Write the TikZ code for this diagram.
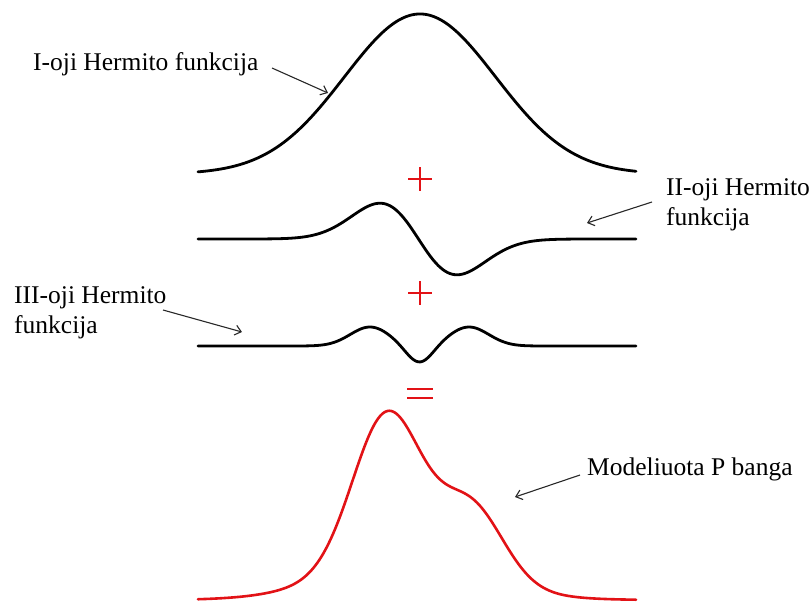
\documentclass[tikz,border=0pt]{standalone}
\usepackage{fontspec}
\setmainfont{Liberation Serif}
\usetikzlibrary{arrows.meta}
\definecolor{wred}{RGB}{226,18,22}
\definecolor{argray}{RGB}{40,40,40}
\tikzset{
  curve/.style={line width=2.8pt, line join=round, line cap=round},
  redcurve/.style={curve, draw=wred, line width=2.6pt},
  sign/.style={draw=wred, line width=2.6pt},
  pointer/.style={draw=argray, line width=1.1pt, -{Straight Barb[length=6pt,width=10pt,line width=1.1pt]}},
  lbl/.style={inner sep=0pt, font=\fontsize{25.5}{30}\selectfont, align=left},
  declare function={g(\t,\c,\s)=exp(-(((\t)-(\c))/(\s))*(((\t)-(\c))/(\s)));}
}
\begin{document}
\begin{tikzpicture}[x=1pt,y=-1pt]
\useasboundingbox (0,0) rectangle (811,603);
% curves
\draw[curve] plot[domain=198:636, samples=220, smooth] (\x, {174 - 160*g(\x,420,107)});
\draw[curve] plot[domain=198:636, samples=220, smooth] (\x, {239 + 59*((\x-418.5)/38.5)*exp(-0.5*((\x-418.5)/38.5)*((\x-418.5)/38.5))});
\draw[curve] plot[domain=198:636, samples=220, smooth] (\x, {346 - 19*g(\x,370,28) - 19*g(\x,469,28) + 17.6*g(\x,419.5,18)});
\draw[redcurve] plot[domain=198:636, samples=260, smooth] (\x, {600 - 150*g(\x,387,48) - 38*g(\x,405,105) - 70*g(\x,472,45)});
% signs
\draw[sign] (408,179) -- (432,179) (420,167) -- (420,191);
\draw[sign] (408,293) -- (432,293) (420,281) -- (420,305);
\draw[sign] (407,389) -- (433,389) (407,398) -- (433,398);
% labels
\node[lbl, anchor=base west] (l1) at (33,70) {I-oji Hermito funkcija};
\node[lbl, anchor=base west] (l2) at (666,225) {II-oji Hermito\\funkcija};
\node[lbl, anchor=base west] (l3) at (14,333) {III-oji Hermito\\funkcija};
\node[lbl, anchor=base west] (l4) at (587,475) {Modeliuota P banga};
% arrows
\coordinate (a1s) at (272,68);  \coordinate (a1e) at (328,93);
\coordinate (a2s) at (652,202); \coordinate (a2e) at (587,223);
\coordinate (a3s) at (163,310); \coordinate (a3e) at (242,332);
\coordinate (a4s) at (580,475); \coordinate (a4e) at (515,497);
\draw[pointer] (a1s) -- (a1e);
\draw[pointer] (a2s) -- (a2e);
\draw[pointer] (a3s) -- (a3e);
\draw[pointer] (a4s) -- (a4e);
\end{tikzpicture}
\end{document}
